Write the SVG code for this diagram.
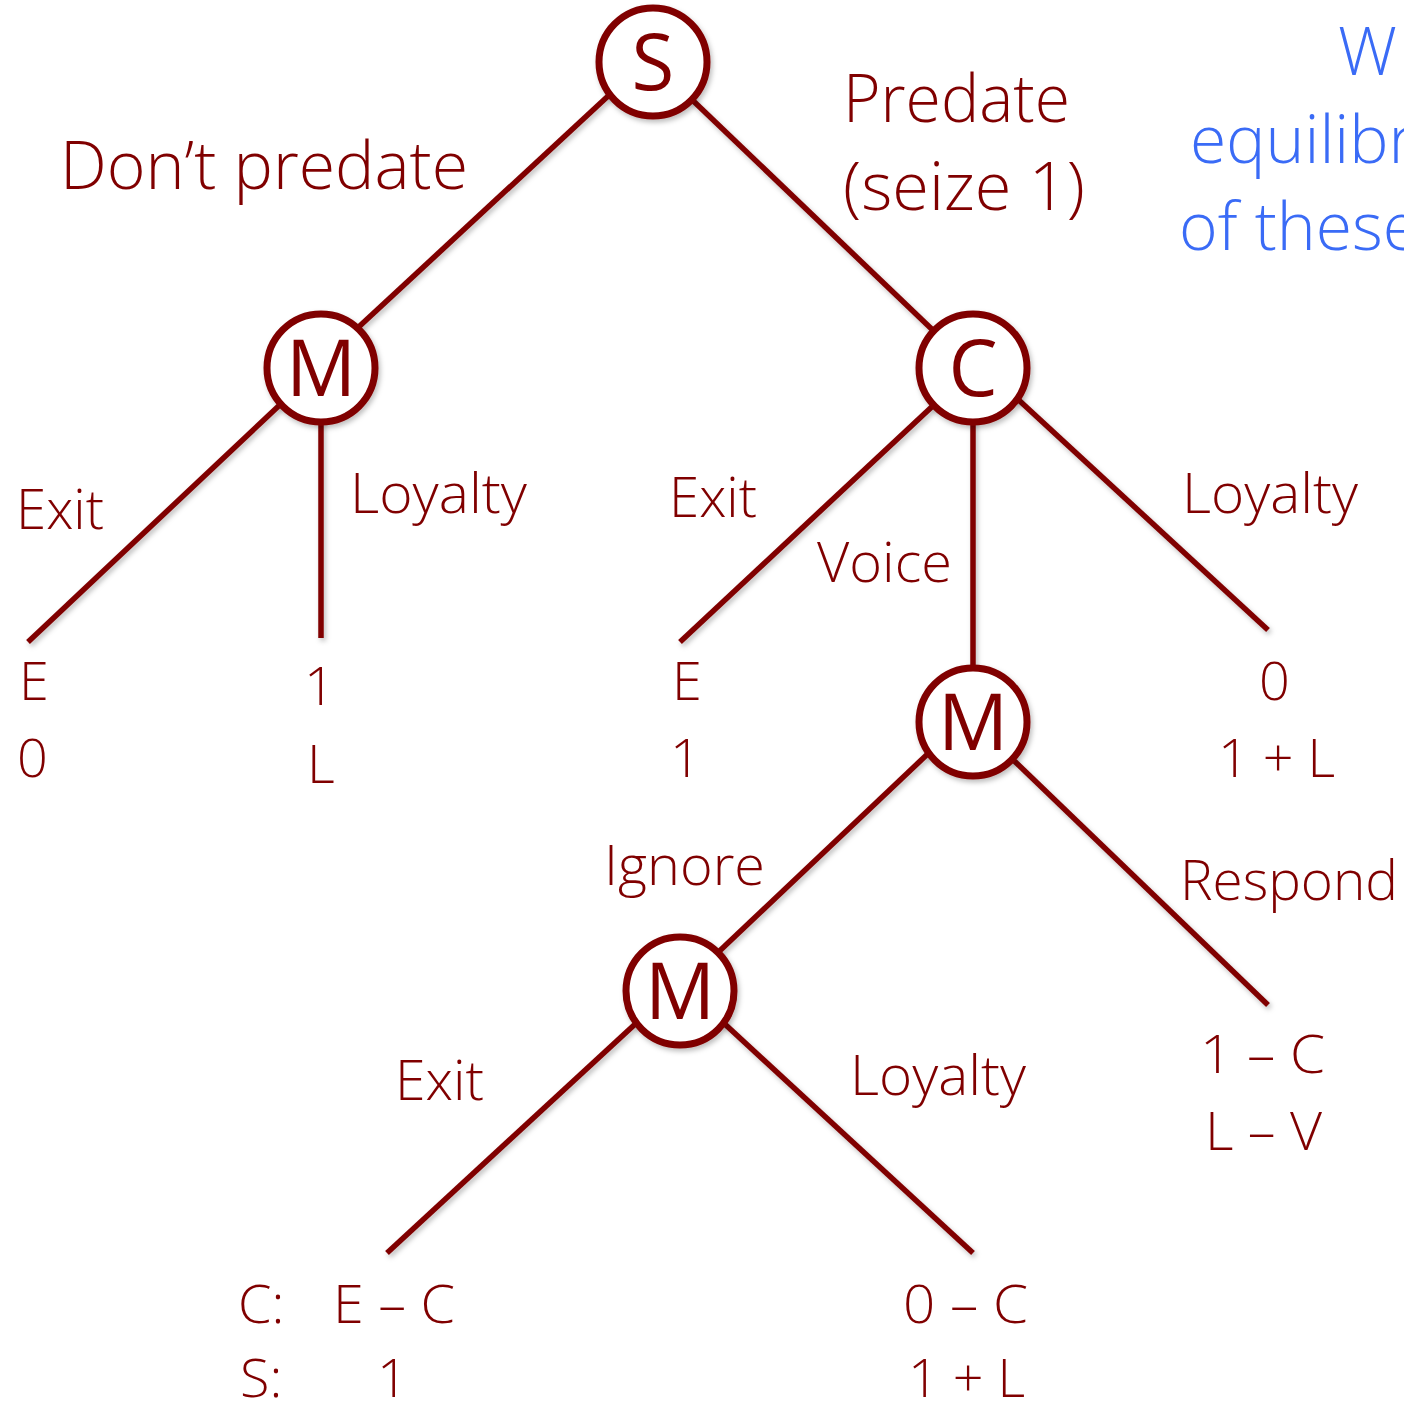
<svg xmlns="http://www.w3.org/2000/svg" width="1404" height="1411" viewBox="0 0 1404 1411">
<style>
text{font-family:"Open Sans","Noto Sans","Liberation Sans",sans-serif;font-weight:300;fill:#800000}
.big{font-size:66px}
.lab{font-size:55px}
.pay{font-size:54px}
.blue{font-size:66px;fill:#3A6BF6}
.node circle{fill:#fff;stroke:#800000;stroke-width:7}
.node text{font-size:78px;font-weight:400;text-anchor:middle}
.edges line{stroke:#800000;stroke-width:5.5;stroke-linecap:butt}
</style>
<defs>
<filter id="sh" x="-20%" y="-20%" width="140%" height="140%">
<feDropShadow dx="2" dy="3" stdDeviation="2.5" flood-color="#000" flood-opacity="0.25"/>
</filter>
</defs>
<rect width="1404" height="1411" fill="#fff"/>
<g class="edges" filter="url(#sh)">
<line x1="620" y1="85" x2="350" y2="335"/>
<line x1="685" y1="93" x2="940" y2="337"/>
<line x1="285" y1="400" x2="28" y2="642"/>
<line x1="321" y1="410" x2="321" y2="638"/>
<line x1="937" y1="402" x2="680" y2="642"/>
<line x1="973" y1="410" x2="973" y2="670"/>
<line x1="1010" y1="392" x2="1268" y2="630"/>
<line x1="935" y1="747" x2="710" y2="960"/>
<line x1="1005" y1="752" x2="1268" y2="1005"/>
<line x1="645" y1="1015" x2="387" y2="1253"/>
<line x1="715" y1="1015" x2="973" y2="1253"/>
</g>
<g id="node-S" class="node" filter="url(#sh)"><circle cx="653" cy="62" r="54"/><text x="653" y="90">S</text></g>
<g id="node-M1" class="node" filter="url(#sh)"><circle cx="321" cy="368" r="54"/><text x="321" y="396">M</text></g>
<g id="node-C" class="node" filter="url(#sh)"><circle cx="973" cy="368" r="54"/><text x="973" y="396">C</text></g>
<g id="node-M2" class="node" filter="url(#sh)"><circle cx="973" cy="722" r="54"/><text x="973" y="750">M</text></g>
<g id="node-M3" class="node" filter="url(#sh)"><circle cx="680" cy="991" r="54"/><text x="680" y="1019">M</text></g>
<g id="labels">
<text class="big" x="60" y="189" textLength="408" lengthAdjust="spacingAndGlyphs">Don’t predate</text>
<text class="big" x="843" y="122" textLength="227" lengthAdjust="spacingAndGlyphs">Predate</text>
<text class="big" x="843" y="210" textLength="242" lengthAdjust="spacingAndGlyphs">(seize 1)</text>
<text class="lab" x="16" y="529" textLength="88" lengthAdjust="spacingAndGlyphs">Exit</text>
<text class="lab" x="350" y="513" textLength="177" lengthAdjust="spacingAndGlyphs">Loyalty</text>
<text class="lab" x="669" y="517" textLength="88" lengthAdjust="spacingAndGlyphs">Exit</text>
<text class="lab" x="817" y="582" textLength="135" lengthAdjust="spacingAndGlyphs">Voice</text>
<text class="lab" x="1182" y="513" textLength="176" lengthAdjust="spacingAndGlyphs">Loyalty</text>
<text class="lab" x="604" y="885" textLength="161" lengthAdjust="spacingAndGlyphs">Ignore</text>
<text class="lab" x="1180" y="900" textLength="218" lengthAdjust="spacingAndGlyphs">Respond</text>
<text class="lab" x="395" y="1100" textLength="89" lengthAdjust="spacingAndGlyphs">Exit</text>
<text class="lab" x="850" y="1095" textLength="176" lengthAdjust="spacingAndGlyphs">Loyalty</text>
</g>
<g id="payoffs">
<text class="pay" x="19" y="700">E</text>
<text class="pay" x="17" y="777">0</text>
<text class="pay" x="304" y="705">1</text>
<text class="pay" x="307" y="783">L</text>
<text class="pay" x="672" y="700">E</text>
<text class="pay" x="670" y="777">1</text>
<text class="pay" x="1259" y="700">0</text>
<text class="pay" x="1218" y="777" textLength="117" lengthAdjust="spacingAndGlyphs">1 + L</text>
<text class="pay" x="1200" y="1073" textLength="125" lengthAdjust="spacingAndGlyphs">1 – C</text>
<text class="pay" x="1205" y="1150" textLength="117" lengthAdjust="spacingAndGlyphs">L – V</text>
<text class="pay" x="238" y="1323">C:</text>
<text class="pay" x="333" y="1323" textLength="122" lengthAdjust="spacingAndGlyphs">E – C</text>
<text class="pay" x="240" y="1397">S:</text>
<text class="pay" x="377" y="1397">1</text>
<text class="pay" x="903" y="1323" textLength="125" lengthAdjust="spacingAndGlyphs">0 – C</text>
<text class="pay" x="908" y="1397" textLength="117" lengthAdjust="spacingAndGlyphs">1 + L</text>
</g>
<g id="note">
<text class="blue" x="1338" y="75">W</text>
<text class="blue" x="1190" y="163">equilibr</text>
<text class="blue" x="1179" y="250">of these</text>
</g>
</svg>
